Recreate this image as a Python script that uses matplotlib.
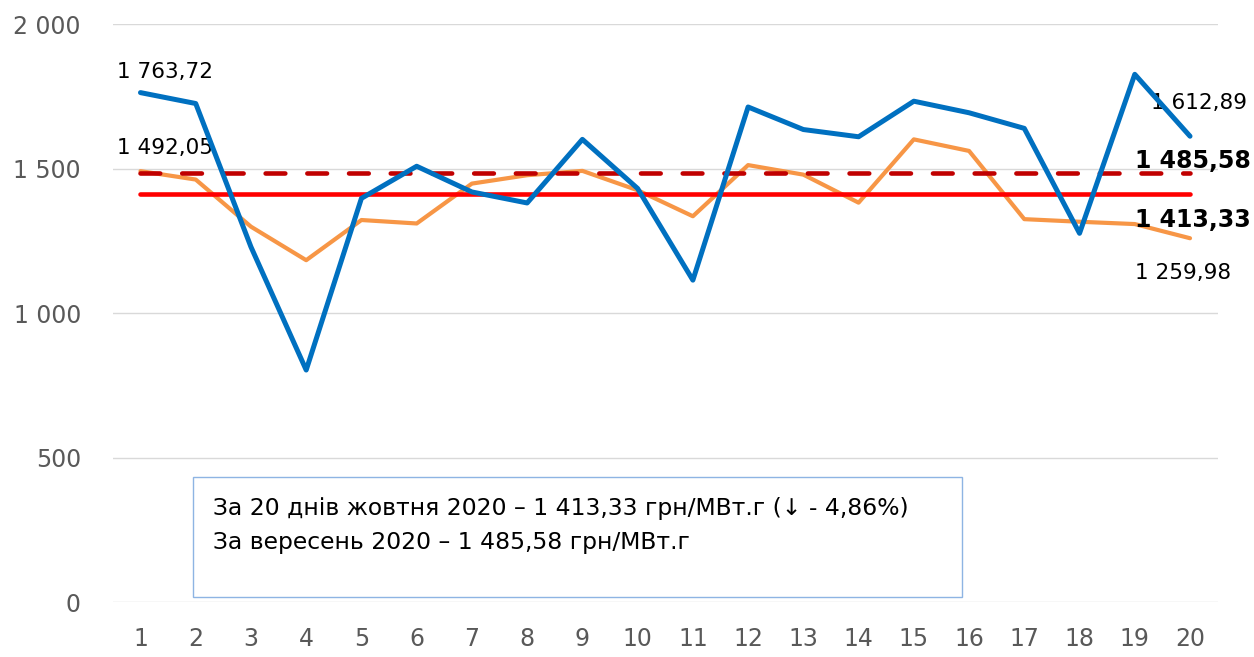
import numpy as np
import matplotlib.pyplot as plt
from matplotlib.patches import Rectangle

days = list(range(1, 21))
october = [1763.72, 1726, 1230, 804, 1398, 1509, 1420, 1382, 1602, 1432,
           1115, 1714, 1636, 1611, 1734, 1694, 1640, 1277, 1827, 1612.89]
september = [1492.05, 1463, 1300, 1184, 1323, 1311, 1449, 1478, 1493, 1426,
             1336, 1513, 1480, 1383, 1602, 1562, 1326, 1317, 1309, 1259.98]
avg_october = 1413.33
avg_september = 1485.58
y_ticks = [0, 500, 1000, 1500, 2000]
y_tick_labels = ["0", "500", "1 000", "1 500", "2 000"]
box_lines = ["За 20 днів жовтня 2020 – 1 413,33 грн/МВт.г (↓ - 4,86%)",
             "За вересень 2020 – 1 485,58 грн/МВт.г"]


def fmt(v):
    s = "{:,.2f}".format(v)
    return s.replace(",", " ").replace(".", ",")


fig = plt.figure(figsize=(12.54, 6.57), dpi=100)
ax = fig.add_axes([0.090, 0.083, 0.881, 0.880])

ax.plot(days, [avg_september] * len(days), color="#C00000", lw=3.3,
        ls=(0, (4.3, 4.8)), dash_capstyle="round", zorder=3)
ax.plot(days, [avg_october] * len(days), color="#FF0000", lw=3.3,
        solid_capstyle="round", zorder=3)
ax.plot(days, september, color="#F79646", lw=3.0, solid_capstyle="round", zorder=2)
ax.plot(days, october, color="#0070C0", lw=3.6, solid_capstyle="round", zorder=4)

ax.set_xlim(0.5, 20.5)
ax.set_ylim(0, 2000)
ax.set_yticks(y_ticks)
ax.set_yticklabels(y_tick_labels)
ax.set_xticks(days)
ax.grid(axis="y", color="#D9D9D9", lw=1.0)
ax.set_axisbelow(True)
for sp in ax.spines.values():
    sp.set_visible(False)
ax.tick_params(length=0, labelsize=17, colors="#595959")
ax.tick_params(axis="y", pad=23)
ax.tick_params(axis="x", pad=18)

lab = dict(fontsize=15.5, color="black", family="DejaVu Sans", va="center")
ax.text(days[0] - 0.42, october[0] + 70, fmt(october[0]), ha="left", **lab)
ax.text(days[0] - 0.42, september[0] + 79, fmt(september[0]), ha="left", **lab)
ax.text(days[-1] + 1.03, october[-1] + 115, fmt(october[-1]), ha="right", **lab)
ax.text(days[-1] + 0.75, september[-1] - 121, fmt(september[-1]), ha="right", **lab)
ax.text(days[-1] + 1.1, avg_september + 41, fmt(avg_september), ha="right", va="center",
        fontsize=17, fontweight="bold", family="DejaVu Sans")
ax.text(days[-1] + 1.1, avg_october - 90, fmt(avg_october), ha="right", va="center",
        fontsize=17, fontweight="bold", family="DejaVu Sans")

# text box
fig.patches.append(Rectangle((193 / 1254, 1 - 597 / 657), (962 - 193) / 1254, (597 - 477) / 657,
                             transform=fig.transFigure, fill=True, facecolor="white",
                             edgecolor="#8EB4E3", lw=1.0, zorder=5))
for i, line in enumerate(box_lines):
    fig.text(213 / 1254, 1 - (508 + 35 * i) / 657, line, fontsize=16.9,
             family="DejaVu Sans", va="center", ha="left", zorder=6)

fig.savefig("out.png", dpi=100)
